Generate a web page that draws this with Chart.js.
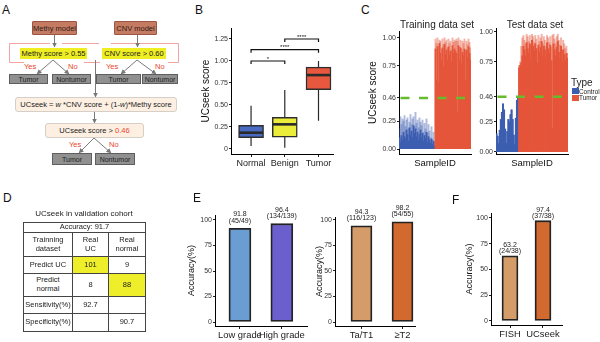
<!DOCTYPE html>
<html>
<head>
<meta charset="utf-8">
<script src="https://cdn.jsdelivr.net/npm/chart.js@4.4.0/dist/chart.umd.min.js"></script>
<style>
body { margin: 0; background: #fff; }
#fig { position: relative; width: 600px; height: 342px; overflow: hidden; font-family: "Liberation Sans", Arial, sans-serif; color: #222; background: #fff; }
.abs { position: absolute; white-space: nowrap; }
.letter { position: absolute; font-size: 12px; color: #111; }
.box { position: absolute; display: flex; align-items: center; justify-content: center; box-sizing: border-box; font-size: 7.5px; white-space: nowrap; }
.model { background: #c57b61; border: 1px solid #9a5642; border-radius: 1px; color: #2e201a; }
.hl { background: #eeee22; color: #222; font-size: 7.5px; }
.gray { background: #909090; border: 1px solid #5e5e5e; color: #1e1e1e; font-size: 7px; }
.soft { background: #fdf0e2; border: 1px solid #d6cfc8; border-radius: 3px; color: #222; }
.red { color: #e8452c; }
.yn { position: absolute; font-size: 7.5px; color: #e8452c; }
canvas { position: absolute; }
table.cm { position: absolute; left: 23px; top: 222px; border-collapse: collapse; table-layout: fixed; border: 1.5px solid #333; font-size: 7.5px; line-height: 1.15; }
table.cm td { border: 1px solid #444; text-align: center; padding: 0; overflow: hidden; white-space: nowrap; }
table.cm td.y { background: #eeee2a; }
</style>
</head>
<body>
<div id="fig">
  <!-- canvases -->
  <canvas id="boxChart" width="139" height="155" style="left:195px;top:20px"></canvas>
  <canvas id="trainChart" width="112" height="141" style="left:360px;top:28px"></canvas>
  <canvas id="testChart" width="94" height="144" style="left:475px;top:25px"></canvas>
  <canvas id="gradeChart" width="123" height="147" style="left:185px;top:195px"></canvas>
  <canvas id="stageChart" width="104" height="147" style="left:312px;top:195px"></canvas>
  <canvas id="methodChart" width="100" height="147" style="left:463px;top:195px"></canvas>

  <!-- panel letters -->
  <div class="letter" style="left:2px;top:3px">A</div>
  <div class="letter" style="left:195px;top:3px">B</div>
  <div class="letter" style="left:361px;top:3px">C</div>
  <div class="letter" style="left:3px;top:191px">D</div>
  <div class="letter" style="left:193px;top:191px">E</div>
  <div class="letter" style="left:452px;top:193px">F</div>

  <!-- panel A: workflow -->
  <svg class="abs" style="left:0;top:0" width="190" height="170">
    <defs>
      <marker id="ah" markerWidth="5" markerHeight="5" refX="4.5" refY="2.5" orient="auto" markerUnits="userSpaceOnUse">
        <path d="M0,0 L5,2.5 L0,5 z" fill="#777"/>
      </marker>
    </defs>
    <path d="M9.5 43.5 H50 M62 43.5 H99 M111 43.5 H178.5 V62.5 H168 M9.5 43.5 V62.5 H24 M84 62.5 H100" stroke="#f2a3a3" stroke-width="1" fill="none"/>
    <g stroke="#7a7a7a" stroke-width="1" fill="none">
      <line x1="54.5" y1="35" x2="54.5" y2="47" marker-end="url(#ah)"/>
      <line x1="137.5" y1="35" x2="137.5" y2="47" marker-end="url(#ah)"/>
      <line x1="53" y1="60" x2="37" y2="74" marker-end="url(#ah)"/>
      <line x1="53" y1="60" x2="69" y2="74" marker-end="url(#ah)"/>
      <line x1="137" y1="60" x2="121" y2="74" marker-end="url(#ah)"/>
      <line x1="137" y1="60" x2="156" y2="74" marker-end="url(#ah)"/>
      <line x1="95.5" y1="60" x2="95.5" y2="97" marker-end="url(#ah)"/>
      <line x1="94.5" y1="112" x2="94.5" y2="123" marker-end="url(#ah)"/>
      <line x1="94" y1="138" x2="79" y2="153" marker-end="url(#ah)"/>
      <line x1="94" y1="138" x2="111" y2="153" marker-end="url(#ah)"/>
    </g>
  </svg>
  <div class="box model" style="left:32px;top:21px;width:45px;height:14px">Methy model</div>
  <div class="box model" style="left:114px;top:21px;width:43px;height:14px">CNV model</div>
  <div class="box hl" style="left:20px;top:48px;width:67px;height:11px">Methy score &gt; 0.55</div>
  <div class="box hl" style="left:102px;top:48px;width:64px;height:11px">CNV score &gt; 0.60</div>
  <div class="yn" style="left:24px;top:62px">Yes</div>
  <div class="yn" style="left:68px;top:62px">No</div>
  <div class="yn" style="left:106px;top:62px">Yes</div>
  <div class="yn" style="left:155px;top:62px">No</div>
  <div class="box gray" style="left:9px;top:74px;width:39px;height:10px">Tumor</div>
  <div class="box gray" style="left:52px;top:74px;width:39px;height:10px">Nontumor</div>
  <div class="box gray" style="left:96px;top:74px;width:45px;height:10px">Tumor</div>
  <div class="box gray" style="left:142px;top:74px;width:36px;height:10px">Nontumor</div>
  <div class="box soft" style="left:15px;top:97px;width:162px;height:15px">UCseek = <i>&nbsp;w&nbsp;</i>*CNV score + (1-<i>w</i>)*Methy score</div>
  <div class="box soft" style="left:45px;top:123px;width:99px;height:15px">UCseek score &gt;&nbsp;<span class="red">0.46</span></div>
  <div class="yn" style="left:69px;top:140px">Yes</div>
  <div class="yn" style="left:109px;top:140px">No</div>
  <div class="box gray" style="left:52px;top:153px;width:40px;height:12px">Tumor</div>
  <div class="box gray" style="left:95px;top:153px;width:40px;height:12px">Nontumor</div>

  <!-- panel C titles and legend -->
  <div class="abs" style="left:387px;top:19px;width:100px;text-align:center;font-size:10px">Training data set</div>
  <div class="abs" style="left:485px;top:19px;width:100px;text-align:center;font-size:10px">Test data set</div>
  <div class="abs" style="left:571px;top:77px;font-size:10px">Type</div>
  <div class="abs" style="left:572px;top:88px;width:7px;height:6px;background:#3d5eb0"></div>
  <div class="abs" style="left:579px;top:87.5px;font-size:6.4px">Control</div>
  <div class="abs" style="left:572px;top:94.5px;width:7px;height:6px;background:#e5553a"></div>
  <div class="abs" style="left:579px;top:94px;font-size:6.4px">Tumor</div>

  <!-- panel D: confusion table -->
  <div class="abs" style="left:23px;top:209px;width:122px;text-align:center;font-size:8px">UCseek in validation cohort</div>
  <table class="cm">
    <colgroup><col style="width:49px"><col style="width:36px"><col style="width:37px"></colgroup>
    <tr style="height:10px"><td colspan="3">Accuracy: 91.7</td></tr>
    <tr style="height:24px"><td>Trainning<br>dataset</td><td>Real<br>UC</td><td>Real<br>normal</td></tr>
    <tr style="height:17px"><td>Predict UC</td><td class="y">101</td><td>9</td></tr>
    <tr style="height:23px"><td>Predict<br>normal</td><td>8</td><td class="y">88</td></tr>
    <tr style="height:17px"><td>Sensitivity(%)</td><td>92.7</td><td></td></tr>
    <tr style="height:18px"><td>Specificity(%)</td><td></td><td>90.7</td></tr>
  </table>
</div>

<script>
// ---- B: UCseek score by group (box plot) ----
const boxCategories = ['Normal', 'Benign', 'Tumor'];
const boxMin = [0.035, 0.015, 0.32];
const boxQ1 = [0.13, 0.135, 0.675];
const boxMedian = [0.185, 0.28, 0.84];
const boxQ3 = [0.27, 0.36, 0.93];
const boxMax = [0.49, 0.67, 1.00];
const scoreTicks = [0, 0.25, 0.5, 0.75, 1.0, 1.25];
const scoreTickLabels = ['0', '0.25', '0.50', '0.75', '1.00', '1.25'];
// [from group, to group, bracket level, stars]
const sigBrackets = [[1, 2, 1.00, '*'], [1, 3, 1.13, '****'], [2, 3, 1.25, '****']];

// ---- C: per-sample UCseek score ----
const cutoff = 0.46;
const sampleTicks = [0, 0.25, 0.46, 0.75, 1.0];
const sampleTickLabels = ['0.00', '0.25', '0.46', '0.75', '1.00'];
const trainControl = [0.10, 0.06, 0.12, 0.08, 0.15, 0.11, 0.09, 0.17, 0.13, 0.07, 0.19, 0.12, 0.16, 0.10, 0.21, 0.14, 0.18, 0.11,
                      0.15, 0.08, 0.13, 0.17, 0.10, 0.14, 0.07, 0.12, 0.09, 0.15, 0.06, 0.11, 0.08, 0.05, 0.09, 0.04, 0.07, 0.03];
const trainControlPeak = [0.18, 0.29, 0.22, 0.27, 0.25, 0.30, 0.20, 0.26, 0.28, 0.18, 0.24, 0.31, 0.22, 0.27, 0.29, 0.20, 0.33, 0.23,
                          0.26, 0.19, 0.28, 0.24, 0.21, 0.26, 0.15, 0.23, 0.18, 0.27, 0.14, 0.22, 0.16, 0.10, 0.20, 0.08, 0.15, 0.06];
const trainTumor = [0.90, 0.62, 0.92, 0.60, 0.95, 0.86, 0.80, 0.91, 0.74, 0.94, 0.85, 0.89, 0.80, 0.92, 0.84, 0.88, 0.78, 0.93,
                    0.86, 0.90, 0.88, 0.86, 0.33, 0.93, 0.80, 0.91, 0.77, 0.87, 0.84, 0.90, 0.62, 0.89, 0.82, 0.92, 0.86, 0.80];
const trainTumorPeak = [0.99, 0.95, 1.00, 0.93, 0.98, 0.97, 0.90, 0.99, 0.94, 1.00, 0.96, 0.98, 0.91, 0.99, 0.95, 0.97, 0.89, 1.00,
                        0.96, 0.98, 0.97, 0.99, 0.97, 1.00, 0.92, 0.98, 0.90, 0.97, 0.95, 0.99, 0.88, 0.97, 0.94, 0.99, 0.96, 0.91];
const testControl = [0.15, 0.13, 0.07, 0.18, 0.27, 0.33, 0.40, 0.35, 0.19, 0.07, 0.17, 0.27, 0.25, 0.31, 0.35, 0.27, 0.14, 0.06,
                     0.28, 0.43, 0.46];
const testTumor = [0.70, 0.72, 0.74, 0.80, 0.88, 0.85, 0.80, 0.91, 0.86, 0.82, 0.90, 0.78, 0.93, 0.88, 0.84, 0.90, 0.86, 0.74,
                   0.89, 0.83, 0.87, 0.92, 0.80, 0.88, 0.85, 0.78, 0.91, 0.86, 0.82, 0.89, 0.76, 0.20, 0.90, 0.85, 0.80, 0.87,
                   0.92, 0.83, 0.78, 0.88, 0.75, 0.85, 0.81, 0.76, 0.82, 0.78];
const testTumorPeak = [0.72, 0.75, 0.88, 0.95, 0.97, 0.93, 0.90, 0.98, 0.96, 0.92, 0.97, 0.88, 0.98, 0.96, 0.91, 0.97, 0.94, 0.86,
                       0.97, 0.92, 0.95, 0.98, 0.90, 0.96, 0.93, 0.88, 0.97, 0.95, 0.91, 0.96, 0.87, 0.97, 0.98, 0.94, 0.90, 0.96,
                       0.98, 0.93, 0.89, 0.95, 0.85, 0.93, 0.90, 0.86, 0.88, 0.82];

// ---- E / F: accuracy bars ----
const accTicks = [0, 25, 50, 75, 100];
const gradeLabels = ['Low grade', 'High grade'];
const gradeAccuracy = [91.8, 96.4];
const gradeCounts = ['(45/49)', '(134/139)'];
const stageLabels = ['Ta/T1', '\u2265T2'];
const stageAccuracy = [94.3, 98.2];
const stageCounts = ['(116/123)', '(54/55)'];
const methodLabels = ['FISH', 'UCseek'];
const methodAccuracy = [63.2, 97.4];
const methodCounts = ['(24/38)', '(37/38)'];

Chart.defaults.font.family = '"Liberation Sans", Arial, sans-serif';
Chart.defaults.color = '#222';
Chart.defaults.animation = false;
Chart.defaults.plugins.legend.display = false;
Chart.defaults.plugins.tooltip.enabled = false;

// pin an axis box to a fixed size so the plot area lands where it should
function fitTo(size) {
    return function(scale) {
        if (scale.isHorizontal()) scale.height = size; else scale.width = size;
        scale.paddingTop = scale.paddingBottom = scale.paddingLeft = scale.paddingRight = 0;
    };
}

function valueAxis(o) {
    return {
        type: 'linear', min: o.min, max: o.max,
        afterFit: fitTo(o.width),
        afterBuildTicks: s => { s.ticks = o.ticks.map(v => ({ value: v })); },
        ticks: { font: { size: 7 }, color: '#333', padding: 1, autoSkip: false,
                 callback: (v, i) => o.labels ? o.labels[i] : v },
        grid: { drawOnChartArea: false, tickLength: 2, color: '#222' },
        border: { color: '#000', width: 1 },
        title: o.title
            ? { display: true, text: o.title, color: '#111', font: { size: o.titleSize }, padding: { top: o.titlePad, bottom: 0 } }
            : { display: false }
    };
}

function groupAxis(o) {
    return {
        type: 'linear', min: o.min, max: o.max, offset: false,
        afterFit: fitTo(o.height),
        afterBuildTicks: s => { s.ticks = o.labels.map((_, i) => ({ value: i + 1 })); },
        ticks: { font: { size: o.font }, color: '#222', padding: 1, maxRotation: 0, autoSkip: false,
                 callback: (v, i) => o.labels[i] },
        grid: { offset: false, drawOnChartArea: false, tickLength: 3, color: '#222' },
        border: { color: '#000', width: 1 }
    };
}

// whiskers + medians on top of the floating box bars
const whiskerPlugin = {
    id: 'whiskers',
    afterDatasetsDraw(chart) {
        const { ctx, scales: { y } } = chart;
        const bars = chart.getDatasetMeta(0).data;
        ctx.save();
        ctx.strokeStyle = '#2a2a2a';
        bars.forEach((bar, i) => {
            ctx.lineWidth = 1.2;
            ctx.beginPath();
            ctx.moveTo(bar.x, y.getPixelForValue(boxQ3[i]));
            ctx.lineTo(bar.x, y.getPixelForValue(boxMax[i]));
            ctx.moveTo(bar.x, y.getPixelForValue(boxQ1[i]));
            ctx.lineTo(bar.x, y.getPixelForValue(boxMin[i]));
            ctx.stroke();
            ctx.lineWidth = 2.6;
            const ym = y.getPixelForValue(boxMedian[i]);
            ctx.beginPath();
            ctx.moveTo(bar.x - bar.width / 2 + 0.5, ym);
            ctx.lineTo(bar.x + bar.width / 2 - 0.5, ym);
            ctx.stroke();
        });
        ctx.restore();
    }
};

const bracketPlugin = {
    id: 'brackets',
    afterDatasetsDraw(chart) {
        const { ctx, scales: { x, y } } = chart;
        ctx.save();
        ctx.strokeStyle = '#111';
        ctx.fillStyle = '#111';
        ctx.lineWidth = 1.2;
        ctx.font = '6px "Liberation Sans", Arial';
        ctx.textAlign = 'center';
        ctx.textBaseline = 'bottom';
        sigBrackets.forEach(([a, b, level, stars]) => {
            const x1 = x.getPixelForValue(a), x2 = x.getPixelForValue(b);
            const yl = y.getPixelForValue(level), yt = y.getPixelForValue(level - 0.035);
            ctx.beginPath();
            ctx.moveTo(x1, yt); ctx.lineTo(x1, yl); ctx.lineTo(x2, yl); ctx.lineTo(x2, yt);
            ctx.stroke();
            ctx.fillText(stars, (x1 + x2) / 2, yl + 1);
        });
        ctx.restore();
    }
};

const cutoffPlugin = {
    id: 'cutoffLine',
    afterDatasetsDraw(chart, args, opts) {
        const { ctx, chartArea: a, scales: { y } } = chart;
        const py = y.getPixelForValue(opts.value);
        ctx.save();
        ctx.strokeStyle = '#68bb2c';
        ctx.lineWidth = 2.5;
        ctx.setLineDash([9, 9.5]);
        ctx.beginPath();
        ctx.moveTo(a.left + 1.5, py);
        ctx.lineTo(a.right, py);
        ctx.stroke();
        ctx.restore();
    }
};

const barTextPlugin = {
    id: 'barText',
    afterDatasetsDraw(chart, args, opts) {
        const ctx = chart.ctx;
        const ds = chart.data.datasets[0];
        ctx.save();
        ctx.font = '7px "Liberation Sans", Arial';
        ctx.fillStyle = '#222';
        ctx.textAlign = 'center';
        ctx.textBaseline = 'middle';
        chart.getDatasetMeta(0).data.forEach((bar, i) => {
            ctx.fillText(ds.data[i].y.toFixed(1), bar.x, bar.y + opts.offsets[0]);
            ctx.fillText(opts.counts[i], bar.x, bar.y + opts.offsets[1]);
        });
        ctx.restore();
    }
};

// B
new Chart(document.getElementById('boxChart'), {
    type: 'bar',
    data: {
        datasets: [{
            data: boxQ1.map((q, i) => ({ x: i + 1, y: [q, boxQ3[i]] })),
            backgroundColor: ['#4a6bc2', '#ecec3a', '#e8583e'],
            borderColor: '#2e2e2e',
            borderWidth: 1.5,
            borderSkipped: false,
            barThickness: 25
        }]
    },
    options: {
        responsive: false,
        layout: { padding: { top: 8, right: 1, left: 0, bottom: 0 } },
        scales: {
            x: groupAxis({ min: 0.405, max: 3.43, height: 21, font: 9, labels: boxCategories }),
            y: valueAxis({ min: -0.057, max: 1.375, width: 36, ticks: scoreTicks, labels: scoreTickLabels,
                           title: 'UCseek score', titleSize: 10, titlePad: 5 })
        }
    },
    plugins: [whiskerPlugin, bracketPlugin]
});

// C
function sampleChart(id, control, controlPeak, tumor, tumorPeak, o) {
    const labels = control.map((_, i) => 'C' + (i + 1)).concat(tumor.map((_, i) => 'T' + (i + 1)));
    const colorOf = (blue, red) => labels.map(l => l[0] === 'C' ? blue : red);
    return new Chart(document.getElementById(id), {
        type: 'bar',
        data: {
            labels: labels,
            datasets: [
                { data: control.concat(tumor), backgroundColor: colorOf('#3d5eb0', '#e5553a'), order: 0 },
                { data: controlPeak.concat(tumorPeak), backgroundColor: colorOf('rgba(61,94,176,0.42)', 'rgba(229,85,58,0.45)'), order: 1 }
            ]
        },
        options: {
            responsive: false,
            layout: { padding: { top: 3, right: 1, left: 0, bottom: 0 } },
            datasets: { bar: { grouped: false, categoryPercentage: 1, barPercentage: 1, borderWidth: 0, inflateAmount: 0.45 } },
            scales: {
                x: {
                    afterFit: fitTo(15),
                    ticks: { display: false },
                    grid: { display: false },
                    border: { color: '#000', width: 1 },
                    title: { display: true, text: 'SampleID', color: '#111', font: { size: 9.5 }, padding: 0 }
                },
                y: valueAxis(o)
            },
            plugins: { cutoffLine: { value: cutoff } }
        },
        plugins: [cutoffPlugin]
    });
}

sampleChart('trainChart', trainControl, trainControlPeak, trainTumor, trainTumorPeak,
    { min: -0.045, max: 1.063, width: 39, ticks: sampleTicks, labels: sampleTickLabels,
      title: 'UCseek score', titleSize: 10, titlePad: 7 });
sampleChart('testChart', testControl, testControl, testTumor, testTumorPeak,
    { min: -0.017, max: 1.033, width: 21, ticks: sampleTicks, labels: sampleTickLabels });

// E, F
function accuracyChart(id, labels, values, counts, colors, o) {
    return new Chart(document.getElementById(id), {
        type: 'bar',
        data: {
            datasets: [{
                data: values.map((v, i) => ({ x: i + 1, y: v })),
                backgroundColor: colors,
                borderColor: '#222',
                borderWidth: 1.8,
                borderSkipped: false,
                barThickness: o.barWidth
            }]
        },
        options: {
            responsive: false,
            layout: { padding: { top: o.padTop, right: 1, left: 0, bottom: 0 } },
            scales: {
                x: groupAxis({ min: o.xMin, max: o.xMax, height: o.xHeight, font: 9.4, labels: labels }),
                y: valueAxis({ min: -3.9, max: o.yMax, width: o.yWidth, ticks: accTicks,
                               title: 'Accuracy(%)', titleSize: 9, titlePad: o.titlePad })
            },
            plugins: { barText: { counts: counts, offsets: o.offsets } }
        },
        plugins: [barTextPlugin]
    });
}

accuracyChart('gradeChart', gradeLabels, gradeAccuracy, gradeCounts, ['#6a9dd2', '#6a5fcd'],
    { padTop: 20, xMin: 0.405, xMax: 2.6, xHeight: 16, yMax: 104.9, yWidth: 30, titlePad: 1.5, barWidth: 22, offsets: [-14, -7.5] });
accuracyChart('stageChart', stageLabels, stageAccuracy, stageCounts, ['#d49c69', '#d2692e'],
    { padTop: 22, xMin: 0.354, xMax: 2.305, xHeight: 16, yMax: 102.9, yWidth: 23, titlePad: 2.6, barWidth: 21, offsets: [-13.5, -7.5] });
accuracyChart('methodChart', methodLabels, methodAccuracy, methodCounts, ['#d49c69', '#d2692e'],
    { padTop: 18, xMin: 0.424, xMax: 2.576, xHeight: 17, yMax: 104.85, yWidth: 28, titlePad: 1.6, barWidth: 16, offsets: [-11, -5] });
</script>
</body>
</html>
